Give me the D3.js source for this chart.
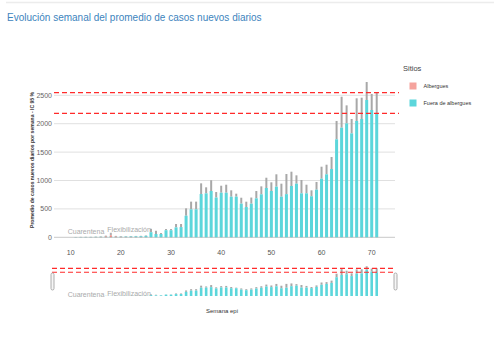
<!DOCTYPE html>
<html><head><meta charset="utf-8">
<script src="https://cdn.jsdelivr.net/npm/d3@7"></script>
<style>body{margin:0;background:#fff;font-family:"Liberation Sans",Arial,sans-serif}</style>
</head><body><svg id="c" width="500" height="344"></svg>
<script>
const weeks = d3.range(11, 72);
const fuera = [4,5,6,6,8,10,12,14,10,12,14,16,18,20,26,
  90,58,58,125,125,175,180,380,493,493,762,774,815,700,785,785,715,715,592,533,592,686,757,868,815,891,715,760,903,944,774,774,722,838,1032,1109,1202,1725,1930,2006,1830,2048,2083,2417,2241,2183];
const fueraUpper = [6,8,9,9,12,14,16,18,14,16,18,22,24,26,34,
  150,115,75,145,145,234,234,510,628,628,950,880,1005,797,908,926,827,768,697,627,700,815,897,1049,968,1109,944,1114,1155,1091,1009,926,827,974,1243,1278,1414,2048,2475,2323,2083,2447,2458,2734,2523,2546];
const albergues = [2,2,3,3,4,6,15,35,12,8,6,6,5,5,4,
  3,2,2,2,2,2,2,2,2,2,2,2,2,2,2,2,2,2,2,2,2,2,2,2,2,2,2,2,2,2,2,2,2,2,2,2,2,2,2,2,2,2,2,2,2,2];
const alberguesUpper = [4,4,5,5,7,10,30,80,25,15,10,10,9,9,8,
  5,4,4,4,4,4,4,4,4,4,4,4,4,4,4,4,4,4,4,4,4,4,4,4,4,4,4,4,4,4,4,4,4,4,4,4,4,4,4,4,4,4,4,4,4,4];
const refLines = [2546, 2183];
const yTicks = [0, 500, 1000, 1500, 2000, 2500];
const xTicks = [10, 20, 30, 40, 50, 60, 70];
const series = ["Albergues", "Fuera de albergues"];
const seriesColors = ["#f5a39d", "#5cd6db"];
const phases = [{label:"Cuarentena", week:9.4}, {label:"Flexibilización", week:17.3}];

const svg = d3.select("#c");
const x = d3.scaleLinear().domain([10,70]).range([70.7,371.7]);
const y = d3.scaleLinear().domain([0,2500]).range([237.3,95.3]);
const ym = d3.scaleLinear().domain([0,2546]).range([296,268.3]);
const L = 54, R = 395;

// top rule
svg.append("line").attr("x1",6).attr("x2",494).attr("y1",2.5).attr("y2",2.5).attr("stroke","#ececec").attr("stroke-width",1.5);
// title
svg.append("text").attr("x",7).attr("y",21).attr("font-size",10).attr("fill","#3d84bd")
  .text("Evolución semanal del promedio de casos nuevos diarios");

// gridlines + y ticks
const gy = svg.append("g");
yTicks.forEach(t=>{
  gy.append("line").attr("x1",L).attr("x2",R).attr("y1",y(t)).attr("y2",y(t))
    .attr("stroke",t===0?"#c8c8c8":"#e0e0e0").attr("stroke-width",1);
  gy.append("text").attr("x",52).attr("y",y(t)+2.5).attr("text-anchor","end")
    .attr("font-size",7).attr("fill","#666").text(t);
});
// x ticks
xTicks.forEach(t=>{
  svg.append("text").attr("x",x(t)).attr("y",254.5).attr("text-anchor","middle")
    .attr("font-size",7).attr("fill","#555").text(t);
});

// bars main
const bw = 3;
const data = weeks.map((w,i)=>({w, f:fuera[i], fu:fueraUpper[i], a:albergues[i], au:alberguesUpper[i]}));
const gm = svg.append("g");
data.forEach(d=>{
  gm.append("rect").attr("x",x(d.w)-1).attr("width",2).attr("y",y(d.fu)).attr("height",y(d.f)-y(d.fu)).attr("fill","#a8a8a8");
  gm.append("rect").attr("x",x(d.w)-bw/2).attr("width",bw).attr("y",y(d.f)).attr("height",y(0)-y(d.f)).attr("fill",seriesColors[1]);
  gm.append("rect").attr("x",x(d.w)-1).attr("width",2).attr("y",y(d.au)).attr("height",y(d.a)-y(d.au)).attr("fill","#b0b0b0");
  gm.append("rect").attr("x",x(d.w)-1).attr("width",2).attr("y",y(d.a)).attr("height",y(0)-y(d.a)).attr("fill","#f08a84");
});
// ref lines
refLines.forEach(v=>{
  svg.append("line").attr("x1",L).attr("x2",399).attr("y1",y(v)).attr("y2",y(v))
    .attr("stroke","#ff2a2a").attr("stroke-width",1.3).attr("stroke-dasharray","5,3");
});
// phase labels
phases.forEach((p,i)=>{
  svg.append("text").attr("x",x(p.week)).attr("y",i===0?234:232).attr("font-size",7).attr("fill","#aaa").text(p.label);
});

// y axis title
svg.append("text").attr("transform","translate(33.5,160) rotate(-90)").attr("text-anchor","middle")
  .attr("font-size",6).attr("font-weight","bold").attr("fill","#333")
  .attr("textLength",136).attr("lengthAdjust","spacingAndGlyphs")
  .text("Promedio de casos nuevos diarios por semana - IC 95 %");

// mini chart
const gmini = svg.append("g");
data.forEach(d=>{
  gmini.append("rect").attr("x",x(d.w)-1).attr("width",2).attr("y",ym(d.fu)).attr("height",ym(d.f)-ym(d.fu)).attr("fill","#a8a8a8");
  gmini.append("rect").attr("x",x(d.w)-1.3).attr("width",2.6).attr("y",ym(d.f)).attr("height",ym(0)-ym(d.f)).attr("fill",seriesColors[1]);
});
refLines.forEach(v=>{
  svg.append("line").attr("x1",52).attr("x2",396).attr("y1",ym(v)).attr("y2",ym(v))
    .attr("stroke","#ff2a2a").attr("stroke-width",1.2).attr("stroke-dasharray","5,3");
});
[51, 394].forEach(hx=>{
  svg.append("rect").attr("x",hx).attr("y",273).attr("width",3).attr("height",17).attr("rx",1.5)
    .attr("fill","#f6f6f6").attr("stroke","#9a9a9a").attr("stroke-width",0.8);
});
phases.forEach((p,i)=>{
  svg.append("text").attr("x",x(p.week)).attr("y",i===0?296.5:295.5).attr("font-size",7).attr("fill","#aaa").text(p.label);
});
svg.append("text").attr("x",222).attr("y",313).attr("text-anchor","middle").attr("font-size",6).attr("fill","#333").text("Semana epi");

// legend
svg.append("text").attr("x",403).attr("y",70.5).attr("font-size",7.5).attr("fill","#444").text("Sitios");
series.forEach((s,i)=>{
  const yy = 82.5 + i*17;
  svg.append("rect").attr("x",409.5).attr("y",yy).attr("width",7).attr("height",7).attr("fill",seriesColors[i]);
  svg.append("text").attr("x",423.5).attr("y",yy+5.5).attr("font-size",5.5).attr("fill","#333").text(s);
});
</script></body></html>
